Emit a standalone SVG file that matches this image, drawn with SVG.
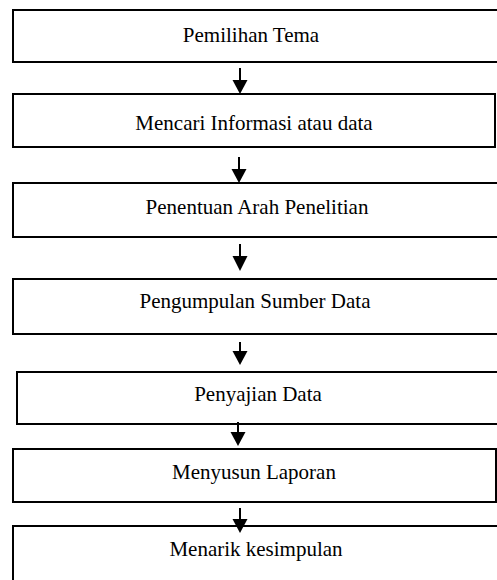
<svg xmlns="http://www.w3.org/2000/svg" width="497" height="580" viewBox="0 0 497 580">
<style>
.box{fill:#fff;stroke:#000;stroke-width:2}
.lbl{font-family:"Liberation Serif","Times New Roman",serif;font-size:21px;fill:#000;text-anchor:middle}
.conn line{stroke:#000;stroke-width:2}
.conn polygon{fill:#000}
</style>
<rect width="497" height="580" fill="#fff"/>
<g id="n1"><rect class="box" x="13" y="10" width="492" height="52"/><text class="lbl" x="251" y="42">Pemilihan Tema</text></g>
<g id="n2"><rect class="box" x="13" y="94" width="482" height="53"/><text class="lbl" x="254" y="130">Mencari Informasi atau data</text></g>
<g id="n3"><rect class="box" x="13" y="183" width="492" height="54"/><text class="lbl" x="257" y="214">Penentuan Arah Penelitian</text></g>
<g id="n4"><rect class="box" x="13" y="279" width="492" height="55"/><text class="lbl" x="255" y="308">Pengumpulan Sumber Data</text></g>
<g id="n5"><rect class="box" x="17" y="372" width="488" height="52"/><text class="lbl" x="258" y="401">Penyajian Data</text></g>
<g id="n6"><rect class="box" x="13" y="449" width="483" height="53"/><text class="lbl" x="254" y="479">Menyusun Laporan</text></g>
<g id="n7"><rect class="box" x="13" y="526" width="492" height="64"/><text class="lbl" x="256" y="556">Menarik kesimpulan</text></g>
<g id="connectors" class="conn">
<line x1="240" y1="68" x2="240" y2="82"/><polygon points="232.5,80 247.5,80 240,94"/>
<line x1="239" y1="157" x2="239" y2="171"/><polygon points="231.5,169 246.5,169 239,183"/>
<line x1="240" y1="244" x2="240" y2="258"/><polygon points="232.5,256 247.5,256 240,271"/>
<line x1="240" y1="342" x2="240" y2="353"/><polygon points="232.5,351 247.5,351 240,365"/>
<line x1="238" y1="422" x2="238" y2="434"/><polygon points="230.5,432 245.5,432 238,446"/>
<line x1="240" y1="508" x2="240" y2="521"/><polygon points="232.5,519 247.5,519 240,533"/>
</g>
</svg>
